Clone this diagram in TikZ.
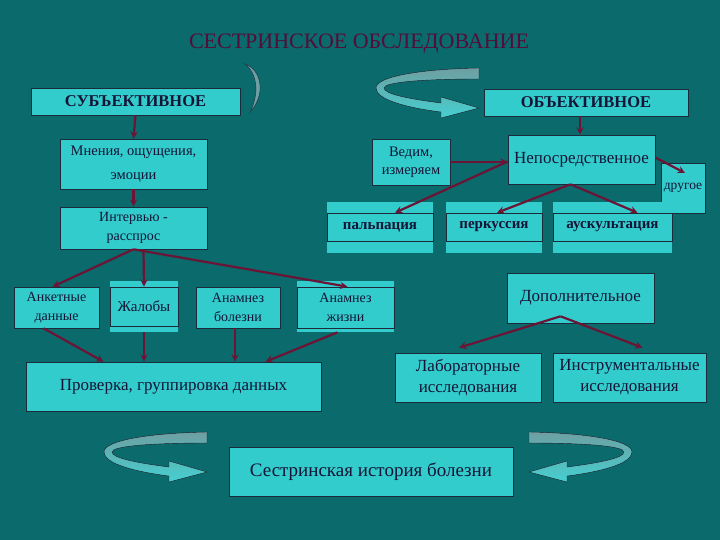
\documentclass[tikz,border=0pt]{standalone}
\usepackage{fontspec}
\setmainfont{Liberation Serif}
\definecolor{bgteal}{HTML}{0B6A6B}
\definecolor{boxfill}{HTML}{33CCCC}
\definecolor{boxline}{HTML}{1C2B3A}
\definecolor{boxtext}{HTML}{141436}
\definecolor{arrowred}{HTML}{6B1436}
\definecolor{titlered}{HTML}{520E3A}
\definecolor{swirltop}{HTML}{6E9FA2}
\definecolor{swirlbot}{HTML}{45D0D0}
\newcommand{\fsz}[2]{\fontsize{#1}{#2}\selectfont}

\begin{document}
\begin{tikzpicture}[
    x=1pt, y=-1pt,
    box/.style={rectangle, draw=boxline, fill=boxfill, text=boxtext, semithick, align=center, inner sep=1pt},
    band/.style={fill=boxfill},
    arrow/.style={->, >=stealth, line width=2.2pt, arrowred},
    swirl/.pic={
        \filldraw[top color=swirltop, bottom color=swirlbot, draw=boxline, thin]
            (0,0) .. controls (-55,1) and (-103,8) .. (-103,20)
            .. controls (-103,32) and (-70,40) .. (-38,44) -- (-38,50) -- (0,40)
            -- (-38,29) -- (-38,35) .. controls (-70,31) and (-95,26) .. (-95,20)
            .. controls (-95,14) and (-55,11) .. (0,11) -- cycle;
    }
]

\fill[bgteal] (0,0) rectangle (720,540);

\node[text=titlered, font=\fsz{22}{24}] (title) at (359,44) {СЕСТРИНСКОЕ ОБСЛЕДОВАНИЕ};

% curved arrows
\filldraw[fill=swirltop, draw=boxline, thin] (245,64) .. controls (262,70) and (266,95) .. (250,112)
    .. controls (259,95) and (258,74) .. (245,64) -- cycle;
\pic at (479,68) {swirl};
\pic at (207,432) {swirl};
\pic[xscale=-1] at (529,432) {swirl};

% left branch
\node[box, minimum width=209, minimum height=27, font=\fsz{16.5}{18}\bfseries] (subj) at (135.5,101.5) {СУБЪЕКТИВНОЕ};
\node[box, minimum width=147, minimum height=50, font=\fsz{14.5}{17}] (feel) at (133.5,164) {Мнения, ощущения,\\[7pt] эмоции};
\node[box, minimum width=147, minimum height=42, font=\fsz{14}{19}] (interv) at (133.5,228) {Интервью -\\ расспрос};

\fill[band] (110,281) rectangle (178,332);
\fill[band] (297,281) rectangle (394,332);
\node[box, minimum width=85, minimum height=41, font=\fsz{14}{19}] (anket) at (56.5,307.5) {Анкетные\\ данные};
\node[box, minimum width=68, minimum height=39, font=\fsz{15}{17}] (compl) at (144,306.5) {Жалобы};
\node[box, minimum width=84, minimum height=41, font=\fsz{14}{19}] (anmorb) at (238,307.5) {Анамнез\\ болезни};
\node[box, minimum width=97, minimum height=41, font=\fsz{14}{19}] (anvit) at (345.5,307.5) {Анамнез\\ жизни};

\node[box, minimum width=295, minimum height=49, font=\fsz{17}{19}] (check) at (173.5,386.5) {Проверка, группировка данных};

% right branch
\node[box, minimum width=204, minimum height=27, font=\fsz{16.5}{18}\bfseries] (obj) at (586,102.5) {ОБЪЕКТИВНОЕ};
\node[box, minimum width=78, minimum height=46, font=\fsz{14.5}{18}] (seen) at (411,162) {Ведим,\\ измеряем};
\node[box, minimum width=147, minimum height=49, font=\fsz{17}{19}] (direct) at (581.5,159.5) {Непосредственное};
\node[box, minimum width=44, minimum height=50, font=\fsz{13.5}{16}] (other) at (683,188) {другое};

\fill[band] (327,202) rectangle (433,253);
\fill[band] (446,202) rectangle (542,253);
\fill[band] (553,202) rectangle (672,253);
\node[box, minimum width=106, minimum height=28, font=\fsz{15}{17}\bfseries] (palp) at (380,227) {пальпация};
\node[box, minimum width=96, minimum height=28, font=\fsz{15}{17}\bfseries] (perc) at (494,227) {перкуссия};
\node[box, minimum width=119, minimum height=28, font=\fsz{15}{17}\bfseries] (ausc) at (612.5,227) {аускультация};

\node[box, minimum width=147, minimum height=50, font=\fsz{17}{19}] (extra) at (580.5,298) {Дополнительное};
\node[box, minimum width=146, minimum height=49, font=\fsz{17}{21}] (lab) at (468,377.5) {Лабораторные\\ исследования};
\node[box, minimum width=153, minimum height=49, font=\fsz{17}{21}] (instr) at (629.5,377.5) {Инструментальные\\ исследования};

\node[box, minimum width=284, minimum height=49, font=\fsz{19}{21}] (history) at (371,471.5) {Сестринская история болезни};

% connectors
\draw[arrow] (subj.south) -- (feel.north);
\draw[arrow] (feel.south) -- (interv.north);
\draw[arrow] (interv.south) -- ([xshift=-4]anket.north);
\draw[arrow] ([xshift=10]interv.south) -- (compl.north);
\draw[arrow] (interv.south) -- ([xshift=2]anvit.north);

\draw[arrow] ([xshift=-13]anket.south) -- ([xshift=-70]check.north);
\draw[arrow] ([yshift=-6]compl.south) -- (compl.south |- check.north);
\draw[arrow] ([xshift=-3]anmorb.south) -- ([xshift=-3]anmorb.south |- check.north);
\draw[arrow] ([xshift=-8,yshift=-4]anvit.south) -- ([xshift=92]check.north);

\draw[arrow] ([xshift=-6]obj.south) -- ([xshift=-6]obj.south |- direct.north);
\draw[arrow] (seen.east) -- (seen.east -| direct.west);
\draw[arrow] ([yshift=-2]direct.west) -- ([xshift=15]palp.north);
\draw[arrow] ([xshift=-11]direct.south) -- ([xshift=3]perc.north);
\draw[arrow] ([xshift=-11]direct.south) -- ([xshift=25]ausc.north);
\draw[arrow] ([yshift=2]direct.east) -- ([xshift=2,yshift=15]other.center);

\draw[arrow] ([xshift=-20,yshift=7]extra.south) -- ([xshift=-9,yshift=5]lab.north);
\draw[arrow] ([xshift=-20,yshift=7]extra.south) -- ([xshift=13,yshift=5]instr.north);

\end{tikzpicture}
\end{document}
